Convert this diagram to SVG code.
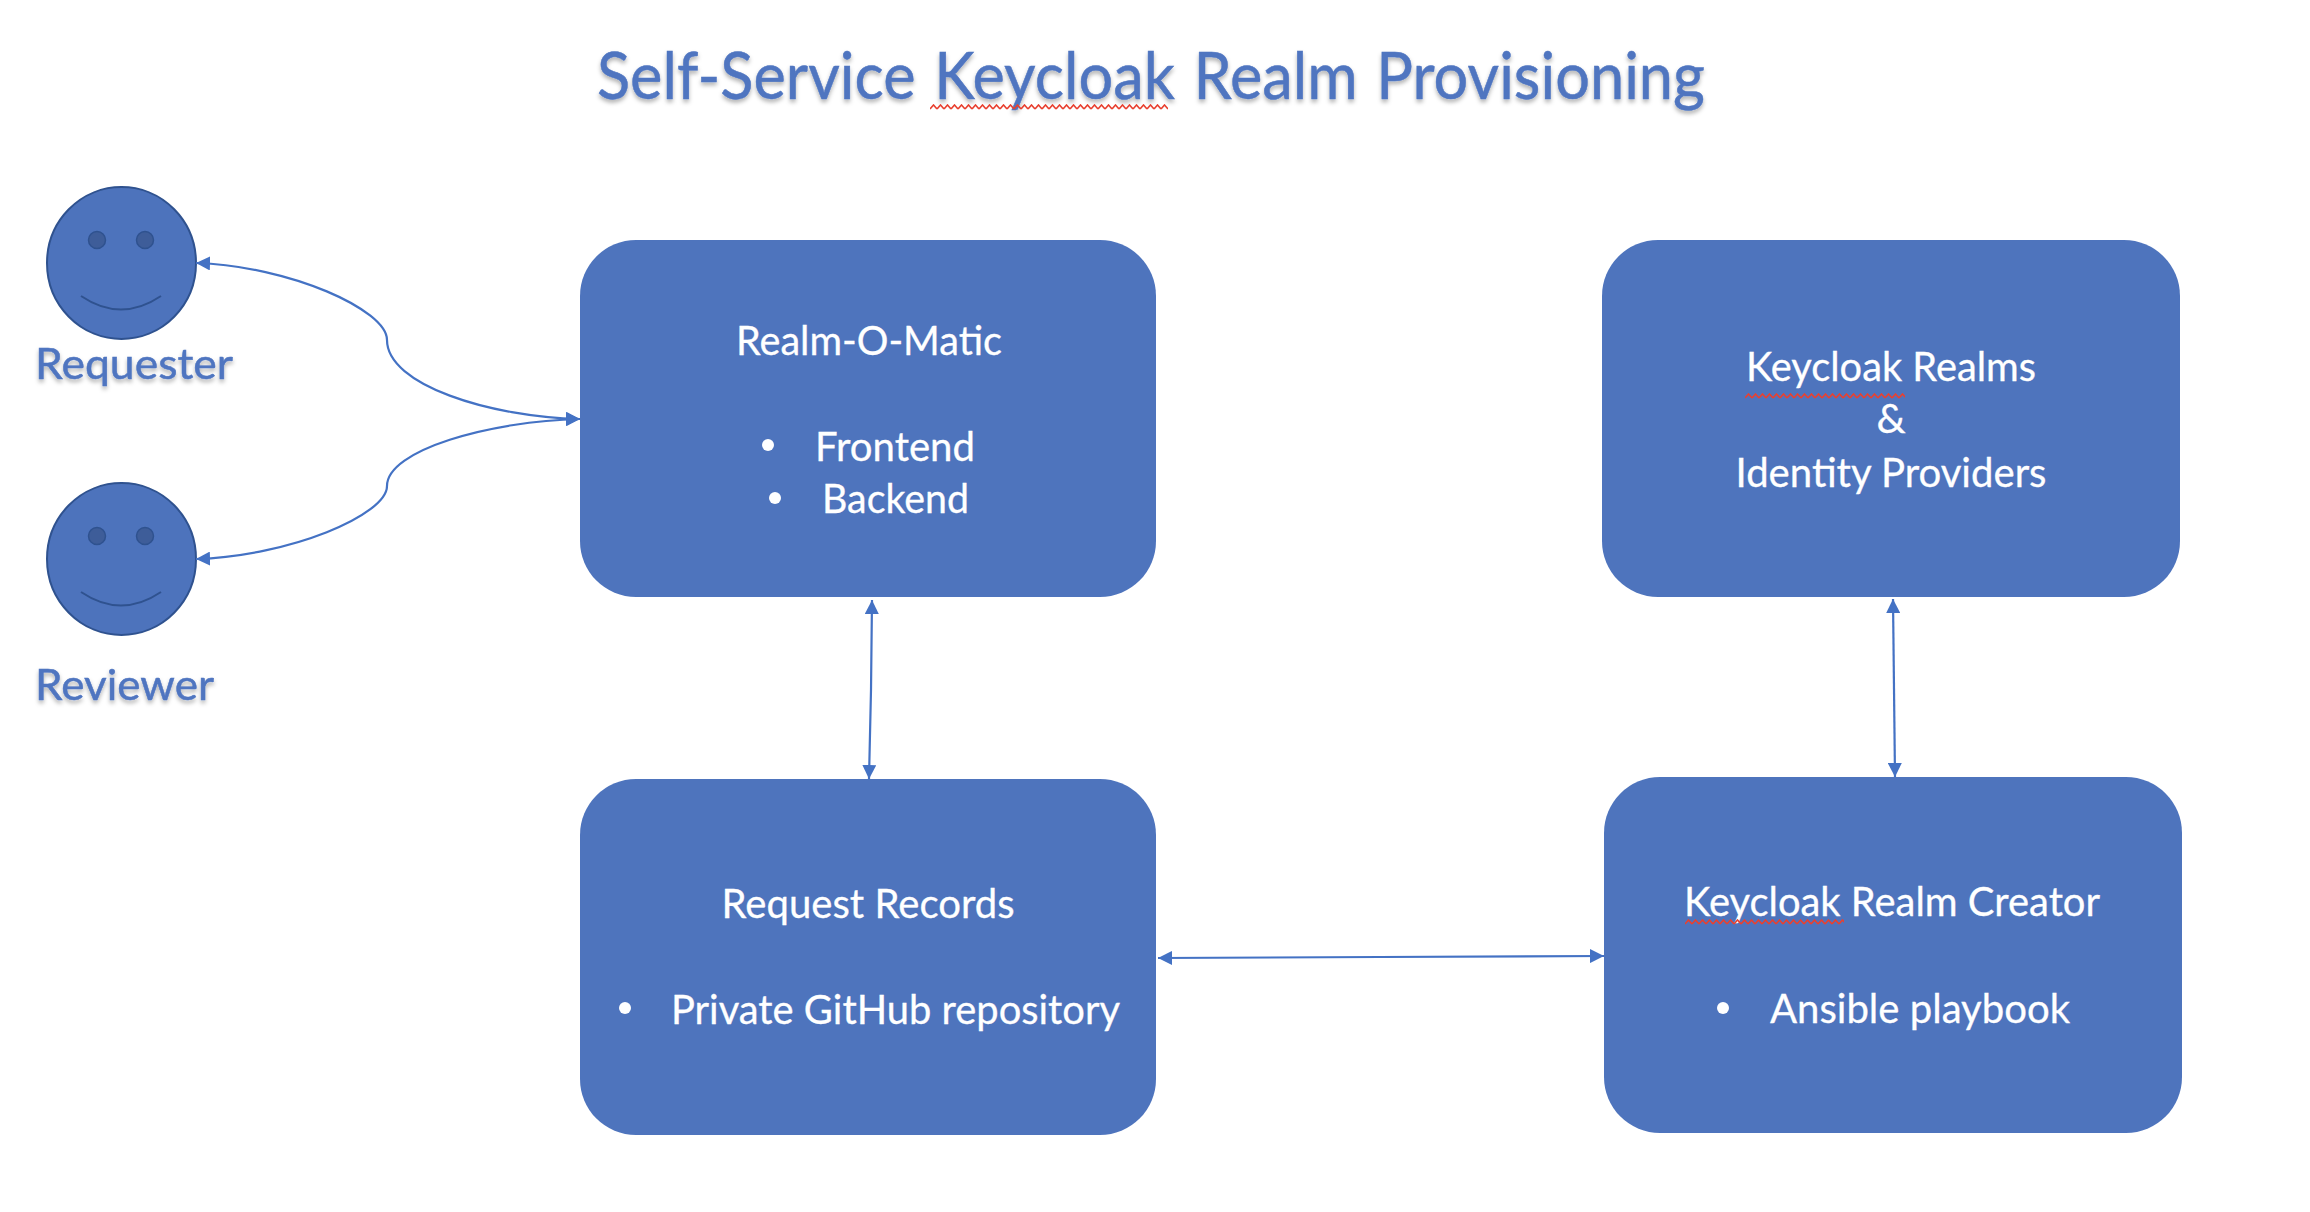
<svg xmlns="http://www.w3.org/2000/svg" width="2310" height="1212" viewBox="0 0 2310 1212">
<style>
text{font-family:Lato,"Open Sans","Liberation Sans",sans-serif}
.box{fill:#4e74bd}
.t{fill:#fff;font-size:41px;stroke:#fff;stroke-width:.3}
.m{text-anchor:middle}
.h{fill:#4f75c0;font-size:43px;stroke:#4f75c0;stroke-width:.5;filter:url(#sh)}
.face{fill:#4d73bc;stroke:#2f528f;stroke-width:2}
.eye{fill:#3e5d99;stroke:#2f528f;stroke-width:1.5}
.smile{fill:none;stroke:#2f528f;stroke-width:2}
.c{fill:none;stroke:#4472c4;stroke-width:2.2;marker-start:url(#a);marker-end:url(#a)}
</style>
<defs>
<marker id="a" viewBox="0 0 14 14" refX="14" refY="7" markerUnits="userSpaceOnUse" markerWidth="14" markerHeight="14" orient="auto-start-reverse"><path d="M0 0L14 7L0 14Z" fill="#4472c4"/></marker>
<filter id="sh" x="-5%" y="-20%" width="110%" height="150%"><feDropShadow dx="0" dy="3" stdDeviation="2.2" flood-color="#000" flood-opacity="0.3"/></filter>
<pattern id="zig" width="7" height="6" patternUnits="userSpaceOnUse"><path d="M0 5L3.5 1L7 5" fill="none" stroke="#e8402f" stroke-width="1.6"/></pattern>
</defs>
<g id="title"><text class="h" x="597" y="99" style="font-size:65px;word-spacing:3px" textLength="1108" lengthAdjust="spacingAndGlyphs">Self-Service Keycloak Realm Provisioning</text><rect width="238" height="6" transform="translate(930 104)" fill="url(#zig)"/></g>
<g id="requester"><ellipse class="face" cx="121.500" cy="263" rx="74.500" ry="76"/><circle class="eye" cx="97" cy="240" r="8.500"/><circle class="eye" cx="145" cy="240" r="8.500"/><path class="smile" d="M81 296Q121 323 161 296"/><text class="h" x="35" y="379" textLength="198" lengthAdjust="spacingAndGlyphs">Requester</text></g>
<g id="reviewer"><ellipse class="face" cx="121.500" cy="559" rx="74.500" ry="76"/><circle class="eye" cx="97" cy="536" r="8.500"/><circle class="eye" cx="145" cy="536" r="8.500"/><path class="smile" d="M81 592Q121 619 161 592"/><text class="h" x="35" y="700" textLength="179" lengthAdjust="spacingAndGlyphs">Reviewer</text></g>
<g id="realm-o-matic"><rect class="box" x="580" y="240" width="576" height="357" rx="56"/><text class="t m" x="869" y="355" textLength="266" lengthAdjust="spacingAndGlyphs">Realm-O-Matic</text><circle cx="768" cy="445" r="6" fill="#fff"/><text class="t" x="815" y="461" textLength="160" lengthAdjust="spacingAndGlyphs">Frontend</text><circle cx="775" cy="498" r="6" fill="#fff"/><text class="t" x="822" y="513" textLength="147" lengthAdjust="spacingAndGlyphs">Backend</text></g>
<g id="request-records"><rect class="box" x="580" y="779" width="576" height="356" rx="56"/><text class="t m" x="868" y="918" textLength="293" lengthAdjust="spacingAndGlyphs">Request Records</text><circle cx="625" cy="1008" r="6" fill="#fff"/><text class="t" x="671" y="1024" textLength="449" lengthAdjust="spacingAndGlyphs">Private GitHub repository</text></g>
<g id="keycloak-realms"><rect class="box" x="1602" y="240" width="578" height="357" rx="56"/><text class="t m" x="1891" y="381" textLength="290" lengthAdjust="spacingAndGlyphs">Keycloak Realms</text><rect width="160" height="6" transform="translate(1745 393)" fill="url(#zig)"/><text class="t m" x="1891" y="433">&amp;</text><text class="t m" x="1891" y="487" textLength="311" lengthAdjust="spacingAndGlyphs">Identity Providers</text></g>
<g id="realm-creator"><rect class="box" x="1604" y="777" width="578" height="356" rx="56"/><text class="t m" x="1892" y="916" textLength="416" lengthAdjust="spacingAndGlyphs">Keycloak Realm Creator</text><rect width="159" height="6" transform="translate(1685 919)" fill="url(#zig)"/><circle cx="1723" cy="1008" r="6" fill="#fff"/><text class="t" x="1770" y="1023" textLength="300" lengthAdjust="spacingAndGlyphs">Ansible playbook</text></g>
<g id="connectors">
<path class="c" d="M196 263C290 266 387 310 387 340C387 385 490 417 580 419"/>
<path class="c" d="M196 559C290 556 387 515 387 486C387 450 490 421 580 419"/>
<path class="c" d="M872 600L871 690L869 779"/>
<path class="c" d="M1893 599L1895 777"/>
<path class="c" d="M1158 958L1380 957L1604 956"/>
</g>
</svg>
